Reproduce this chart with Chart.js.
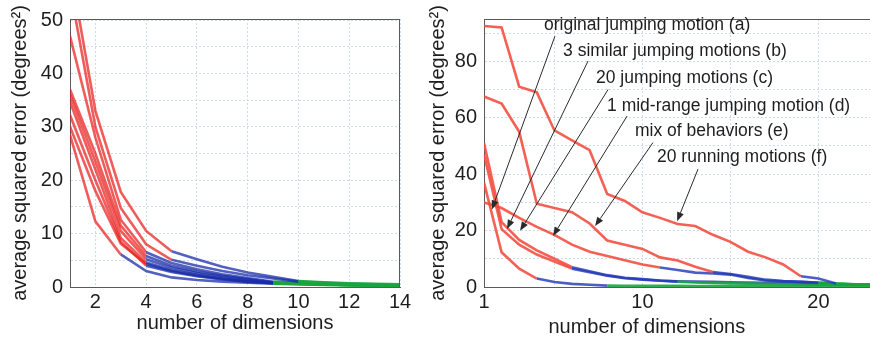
<!DOCTYPE html>
<html>
<head>
<meta charset="utf-8">
<script src="https://cdn.jsdelivr.net/npm/chart.js@4.4.0/dist/chart.umd.min.js"></script>
<style>
  html, body { margin: 0; padding: 0; background: #fff; overflow: hidden; }
  #wrap { position: relative; width: 870px; height: 339px; }
  #box-left { position: absolute; left: 0; top: 0; width: 420px; height: 339px; }
  #box-right { position: absolute; left: 420px; top: 0; width: 450px; height: 339px; }
</style>
</head>
<body>
<div id="wrap">
  <div id="box-left"><canvas id="chart-left"></canvas></div>
  <div id="box-right"><canvas id="chart-right"></canvas></div>
</div>
<script>
// ---- left panel: many runs, error vs number of dimensions ----
const leftDims = [1, 2, 3, 4, 5, 6, 7, 8, 9, 10, 11, 12, 13, 14];
const leftXTicks = [2, 4, 6, 8, 10, 12, 14];
const leftYTicks = [0, 10, 20, 30, 40, 50];
const leftYGrid = [0, 5, 10, 15, 20, 25, 30, 35, 40, 45, 50];

const leftRun1 = [60, 33, 17.8, 10.5, 6.7, 5.2, 3.8, 2.7, 1.9, 1.1, 0.9, 0.7, 0.6, 0.5];
const leftRun2 = [56, 30, 14.8, 8.0, 5.1, 4.0, 3.0, 2.2, 1.6, 1.0, 0.8, 0.6, 0.5, 0.4];
const leftRun3 = [47, 28, 12.6, 6.5, 4.5, 3.3, 2.4, 1.7, 1.0, 0.8, 0.6, 0.5, 0.4, 0.3];
const leftRun4 = [37, 25, 11.5, 5.8, 4.0, 2.9, 2.1, 1.5, 0.9, 0.7, 0.6, 0.5, 0.4, 0.3];
const leftRun5 = [36, 23.5, 10.5, 5.2, 3.6, 2.6, 1.9, 1.3, 0.8, 0.7, 0.5, 0.4, 0.3, 0.3];
const leftRun6 = [34.7, 22, 9.2, 4.6, 3.2, 2.3, 1.6, 1.1, 0.8, 0.6, 0.5, 0.4, 0.3, 0.2];
const leftRun7 = [32.2, 20, 8.5, 4.0, 2.8, 2.0, 1.4, 1.0, 0.7, 0.6, 0.5, 0.4, 0.3, 0.2];
const leftRun8 = [30, 18, 8.1, 4.3, 3.0, 2.1, 1.5, 1.0, 0.7, 0.6, 0.5, 0.4, 0.3, 0.2];
const leftRun9 = [28.5, 12.3, 6.1, 3.0, 1.8, 1.3, 1.0, 0.8, 0.6, 0.5, 0.4, 0.3, 0.3, 0.2];
const leftRuns = [leftRun1, leftRun2, leftRun3, leftRun4, leftRun5, leftRun6, leftRun7, leftRun8, leftRun9];
// last dimension drawn red, last dimension drawn blue (green after)
const leftRedUntil = [5, 5, 4, 4, 4, 4, 4, 4, 3];
const leftBlueUntil = [10, 10, 9, 9, 9, 9, 9, 9, 9];

// ---- right panel: six motion sets ----
const rightDims = [1, 2, 3, 4, 5, 6, 7, 8, 9, 10, 11, 12, 13, 14, 15, 16, 17, 18, 19, 20, 21, 22, 23];
const rightXTicks = [1, 10, 20];
const rightXGrid = [1, 5, 10, 15, 20];
const rightYTicks = [0, 20, 40, 60, 80];
const rightYGrid = [0, 10, 20, 30, 40, 50, 60, 70, 80, 90];

const runningMotions20 = [92.5, 92, 71, 69, 55.5, 52, 48.5, 33, 30.5, 26.5, 24.5, 22.3, 21.6, 18.5, 16, 12.5, 10.5, 8, 3.8, 3.0, 1.2, 1.0, 0.9];
const mixOfBehaviors = [67.5, 65, 55, 29.5, 28, 26.5, 22.5, 16.5, 15, 13.5, 10.5, 9.4, 7.2, 5.3, 4.6, 3.6, 2.6, 2.1, 1.8, 1.6, 1.2, 1.0, 0.9];
const midRangeJump = [30, 28, 24.5, 21.3, 18.5, 15, 12.5, 11, 9.5, 8, 6.9, 6, 5.1, 4.8, 4.4, 3.2, 2.3, 2.0, 1.8, 1.5, 1.1, 0.9, 0.85];
const jumpingMotions20 = [51, 23, 16.7, 13, 10, 7, 5.6, 4.2, 3.3, 2.8, 2.3, 1.9, 1.6, 1.4, 1.3, 1.2, 1.1, 1.0, 0.9, 0.85, 0.8, 0.75, 0.7];
const similarJumps3 = [47, 20.5, 15, 11.5, 9, 6.5, 5.2, 4.0, 3.1, 2.6, 2.2, 2.0, 1.9, 1.8, 1.7, 1.6, 1.5, 1.4, 1.3, 1.2, 1.0, 0.9, 0.85];
const originalJump = [37, 12.3, 6.5, 3.0, 1.8, 1.1, 0.8, 0.5, 0.45, 0.4, 0.4, 0.4, 0.35, 0.35, 0.35, 0.3, 0.3, 0.3, 0.3, 0.3, 0.3, 0.3, 0.3];
const rightRuns = [runningMotions20, mixOfBehaviors, midRangeJump, jumpingMotions20, similarJumps3, originalJump];
const rightRedUntil = [19, 14, 11, 6, 6, 4];
const rightBlueUntil = [21, 20, 20, 12, 20, 8];

const noteTexts = [
  'original jumping motion (a)',
  '3 similar jumping motions (b)',
  '20 jumping motions (c)',
  '1 mid-range jumping motion (d)',
  'mix of behaviors (e)',
  '20 running motions (f)',
];
// label left/middle, arrow tail, arrow tip, all in data units
const noteAt = [[4.41, 92.7], [5.49, 83.6], [7.36, 74.2], [7.99, 64.1], [9.58, 55.4], [10.83, 46.0]];
const noteTail = [[5.03, 88.9], [6.91, 80.1], [8.05, 70.0], [9.13, 60.6], [10.6, 51.2], [13.16, 41.8]];
const noteTip = [[1.45, 27.5], [2.31, 20.6], [3.05, 19.9], [4.92, 18.1], [7.31, 21.6], [11.97, 23.3]];

const TEXT = '#1e1e1e';
const AXIS = '#5a5a5a';
const GRID = '#ccdaea';
const RED_L = 'rgba(232, 30, 28, 0.72)';
const BLUE_L = 'rgba(26, 44, 170, 0.75)';
const RED_R = 'rgba(242, 74, 60, 0.88)';
const BLUE_R = 'rgba(36, 58, 182, 0.82)';
const GREEN = 'rgba(24, 165, 62, 0.9)';

Chart.defaults.font.family = '"Liberation Sans", Arial, sans-serif';
Chart.defaults.color = TEXT;

function segColor(redUntil, blueUntil, red, blue) {
  return (ctx) => {
    const x = ctx.p1.parsed.x;
    if (x <= redUntil) return red;
    if (x <= blueUntil) return blue;
    return GREEN;
  };
}

function buildSets(dims, runs, redUntil, blueUntil, red, blue) {
  return runs.map((vals, i) => ({
    data: dims.map((d, j) => ({ x: d, y: vals[j] })),
    borderColor: red,
    borderWidth: 2.6,
    pointRadius: 0,
    tension: 0,
    segment: { borderColor: segColor(redUntil[i], blueUntil[i], red, blue) },
  }));
}

const framePlugin = {
  id: 'frame',
  afterDatasetsDraw(chart, args, opts) {
    const { ctx, chartArea: a } = chart;
    ctx.save();
    ctx.strokeStyle = AXIS;
    ctx.lineWidth = 1;
    ctx.beginPath();
    ctx.moveTo(a.left, a.top + 0.5);
    ctx.lineTo(a.right, a.top + 0.5);
    if (opts.right) {
      ctx.moveTo(a.right - 0.5, a.top);
      ctx.lineTo(a.right - 0.5, a.bottom);
    }
    ctx.stroke();
    ctx.restore();
  },
};

const notesPlugin = {
  id: 'notes',
  afterDatasetsDraw(chart, args, opts) {
    if (!opts.show) return;
    const { ctx, scales } = chart;
    const px = (p) => [scales.x.getPixelForValue(p[0]), scales.y.getPixelForValue(p[1])];
    ctx.save();
    ctx.strokeStyle = '#2a2a2a';
    ctx.fillStyle = '#2a2a2a';
    ctx.lineWidth = 1;
    noteTexts.forEach((txt, i) => {
      const [x0, y0] = px(noteTail[i]);
      const [x1, y1] = px(noteTip[i]);
      const ang = Math.atan2(y1 - y0, x1 - x0);
      const len = 9;
      const half = 3.5;
      ctx.beginPath();
      ctx.moveTo(x0, y0);
      ctx.lineTo(x1 - Math.cos(ang) * len, y1 - Math.sin(ang) * len);
      ctx.stroke();
      ctx.beginPath();
      ctx.moveTo(x1, y1);
      ctx.lineTo(x1 - Math.cos(ang) * len - Math.sin(ang) * half, y1 - Math.sin(ang) * len + Math.cos(ang) * half);
      ctx.lineTo(x1 - Math.cos(ang) * len + Math.sin(ang) * half, y1 - Math.sin(ang) * len - Math.cos(ang) * half);
      ctx.closePath();
      ctx.fill();
    });
    ctx.fillStyle = TEXT;
    ctx.font = '17.5px "Liberation Sans", Arial, sans-serif';
    ctx.textAlign = 'left';
    ctx.textBaseline = 'middle';
    noteTexts.forEach((txt, i) => {
      const [x, y] = px(noteAt[i]);
      ctx.fillText(txt, x, y);
    });
    // x title sits under the 10 mark rather than the middle of the cut-off plot
    ctx.font = '20px "Liberation Sans", Arial, sans-serif';
    ctx.textAlign = 'center';
    ctx.fillText('number of dimensions', scales.x.getPixelForValue(10.25), chart.chartArea.bottom + 40);
    ctx.restore();
  },
};

function axisX(min, max, gridVals, labelVals, height) {
  return {
    type: 'linear',
    min: min,
    max: max,
    afterBuildTicks: (axis) => { axis.ticks = gridVals.map((v) => ({ value: v })); },
    afterFit: (axis) => { axis.height = height; },
    grid: { color: GRID, drawTicks: false, lineWidth: 1 },
    border: { color: AXIS, width: 1, dash: [2, 2] },
    ticks: {
      autoSkip: false,
      maxRotation: 0,
      padding: 3,
      font: { size: 20 },
      color: TEXT,
      callback: (v) => (labelVals.includes(v) ? String(v) : ''),
    },
  };
}

function axisY(min, max, gridVals, labelVals, width, titlePad) {
  return {
    type: 'linear',
    min: min,
    max: max,
    afterBuildTicks: (axis) => { axis.ticks = gridVals.map((v) => ({ value: v })); },
    afterFit: (axis) => { axis.width = width; },
    grid: { color: GRID, drawTicks: false, lineWidth: 1 },
    border: { color: AXIS, width: 1, dash: [2, 2] },
    ticks: {
      autoSkip: false,
      padding: 7,
      font: { size: 20 },
      color: TEXT,
      callback: (v) => (labelVals.includes(v) ? String(v) : ''),
    },
    title: {
      display: true,
      text: 'average squared error (degrees²)',
      font: { size: 20 },
      color: TEXT,
      padding: { top: titlePad, bottom: 0 },
    },
  };
}

const leftX = axisX(1, 14, leftXTicks, leftXTicks, 52);
leftX.title = {
  display: true,
  text: 'number of dimensions',
  font: { size: 20 },
  color: TEXT,
  padding: { top: 0, bottom: 4 },
};

new Chart(document.getElementById('chart-left'), {
  type: 'line',
  data: { datasets: buildSets(leftDims, leftRuns, leftRedUntil, leftBlueUntil, RED_L, BLUE_L) },
  options: {
    animation: false,
    responsive: true,
    maintainAspectRatio: false,
    layout: { padding: { top: 14, right: 20, bottom: 0, left: 0 } },
    plugins: { legend: { display: false }, tooltip: { enabled: false }, frame: { right: true }, notes: { show: false } },
    scales: {
      x: leftX,
      y: axisY(0, 50.2, leftYGrid, leftYTicks, 70, 8),
    },
  },
  plugins: [framePlugin, notesPlugin],
});

new Chart(document.getElementById('chart-right'), {
  type: 'line',
  data: { datasets: buildSets(rightDims, rightRuns, rightRedUntil, rightBlueUntil, RED_R, BLUE_R) },
  options: {
    animation: false,
    responsive: true,
    maintainAspectRatio: false,
    layout: { padding: { top: 12, right: 0, bottom: 0, left: 0 } },
    plugins: { legend: { display: false }, tooltip: { enabled: false }, frame: { right: false }, notes: { show: true } },
    scales: {
      x: axisX(1, 22.93, rightXGrid, rightXTicks, 52),
      y: axisY(0, 95, rightYGrid, rightYTicks, 64, 6),
    },
  },
  plugins: [framePlugin, notesPlugin],
});
</script>
</body>
</html>
